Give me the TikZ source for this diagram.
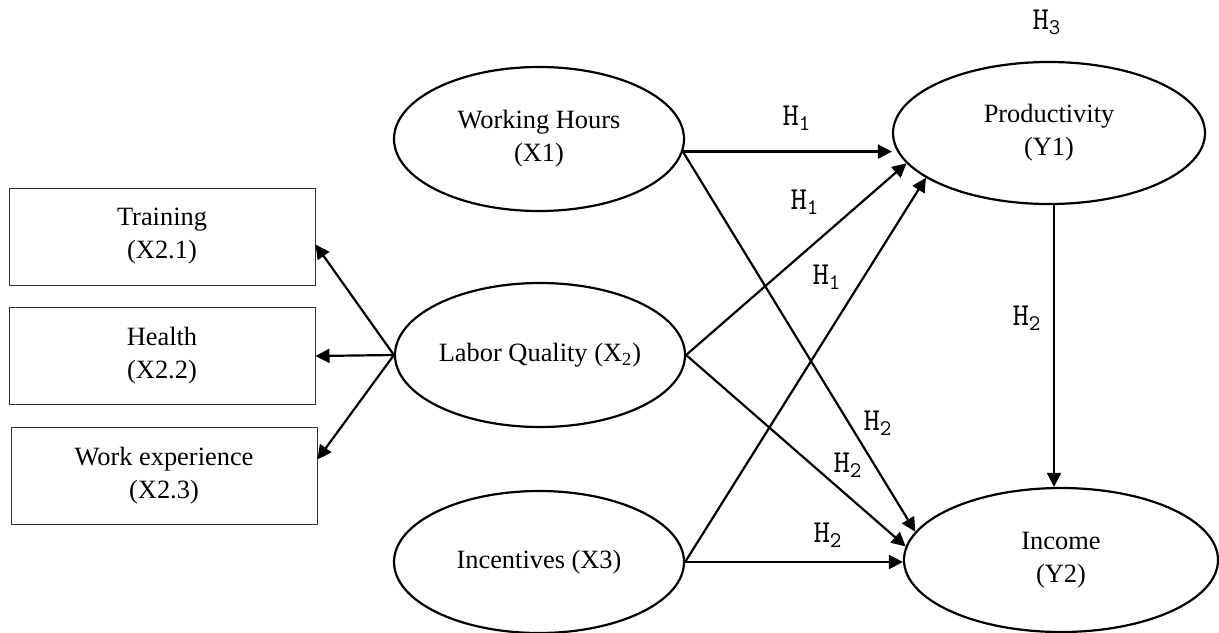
\documentclass[tikz,border=0pt]{standalone}
\usepackage{fontspec}
\setmainfont{Liberation Serif}
\usetikzlibrary{shapes.geometric,arrows.meta}

\begin{document}
\begin{tikzpicture}[yscale=-1,x=0.5pt,y=0.5pt,
    var/.style={ellipse,draw,line width=1.1pt,inner sep=0pt,minimum width=145pt,minimum height=72pt,align=center,font=\fontsize{13.2}{16.5}\selectfont},
    ind/.style={rectangle,draw=black!80,line width=0.5pt,inner sep=0pt,minimum width=153pt,minimum height=48.5pt,align=center,font=\fontsize{13.2}{16.5}\selectfont},
    hyp/.style={inner sep=0pt,font=\fontsize{16}{19}\selectfont\ttfamily},
    arr/.style={line width=1.1pt,-{Triangle[length=7pt,width=7pt]}}]
    \useasboundingbox (0,0) rectangle (1219,632);
    % indicators of labor quality
    \node[ind] (train) at (162,236.5) {Training\\(X2.1)};
    \node[ind] (health) at (162,356) {Health\\(X2.2)};
    \node[ind] (workexp) at (164,475.5) {Work experience\\(X2.3)};
    % latent variables
    \node[var] (wh) at (539,139) {Working Hours\\(X1)};
    \node[var] (lq) at (540,355) {Labor Quality (X\textsubscript{2})};
    \node[var,minimum height=71pt] (inc) at (539,562) {Incentives (X3)};
    \node[var,minimum width=156pt,minimum height=71pt] (prod) at (1049,133) {Productivity\\(Y1)};
    \node[var,minimum width=157pt] (income) at (1061,560) {Income\\(Y2)};
    \draw[arr] (lq.west) -- (train.-3);
    \draw[arr] (lq.west) -- (health.east);
    \draw[arr] (lq.west) -- (workexp.6.5);
    \draw[arr] (wh.-5) -- (wh.-5 -| prod.west);
    \draw[arr] (wh.-5) -- (income.169);
    \draw[arr] (lq.east) -- (prod.192);
    \draw[arr] (lq.east) -- (income.175);
    \draw[arr] (inc.east) -- (prod.200);
    \draw[arr] (inc.east) -- (inc.east -| income.west);
    \draw[arr] (prod.-86) -- (prod.-86 |- income.north);
    % hypotheses
    \node[hyp] (h3) at (1047,22) {H\textsubscript{3}};
    \node[hyp] (h1a) at (797,118) {H\textsubscript{1}};
    \node[hyp] (h1b) at (805,202) {H\textsubscript{1}};
    \node[hyp] (h1c) at (827,277) {H\textsubscript{1}};
    \node[hyp] (h2a) at (878,423) {H\textsubscript{2}};
    \node[hyp] (h2b) at (848,465) {H\textsubscript{2}};
    \node[hyp] (h2c) at (828,535) {H\textsubscript{2}};
    \node[hyp] (h2d) at (1027,318) {H\textsubscript{2}};
  \end{tikzpicture}
\end{document}
